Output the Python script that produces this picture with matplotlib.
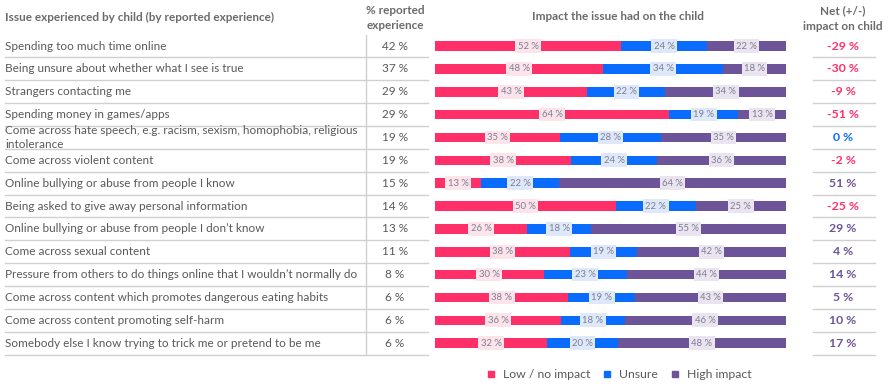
import matplotlib
matplotlib.use("Agg")
import matplotlib.pyplot as plt
import matplotlib.transforms as mtransforms
from matplotlib.lines import Line2D
import numpy as np

plt.rcParams['font.family'] = ['Lato', 'DejaVu Sans']

issues = [
    "Spending too much time online",
    "Being unsure about whether what I see is true",
    "Strangers contacting me",
    "Spending money in games/apps",
    "Come across hate speech, e.g. racism, sexism, homophobia, religious\nintolerance",
    "Come across violent content",
    "Online bullying or abuse from people I know",
    "Being asked to give away personal information",
    "Online bullying or abuse from people I don\u2019t know",
    "Come across sexual content",
    "Pressure from others to do things online that I wouldn\u2019t normally do",
    "Come across content which promotes dangerous eating habits",
    "Come across content promoting self-harm",
    "Somebody else I know trying to trick me or pretend to be me",
]
reported = [42, 37, 29, 29, 19, 19, 15, 14, 13, 11, 8, 6, 6, 6]
low = [52, 48, 43, 64, 35, 38, 13, 50, 26, 38, 30, 38, 36, 32]
unsure = [24, 34, 22, 19, 28, 24, 22, 22, 18, 19, 23, 19, 18, 20]
high = [22, 18, 34, 13, 35, 36, 64, 25, 55, 42, 44, 43, 46, 48]
net = [-29, -30, -9, -51, 0, -2, 51, -25, 29, 4, 14, 5, 10, 17]

series_names = ["Low / no impact", "Unsure", "High impact"]
colors = ["#ff2f68", "#0a6cff", "#6d5499"]
label_bg = ["#fde3ea", "#dde9fb", "#e9e4f0"]
text_grey = "#595959"
head_grey = "#6b6b6b"
line_grey = "#d0d0d0"

W, H = 893, 391
fig = plt.figure(figsize=(W / 100, H / 100), dpi=100)
n = len(issues)
ax = fig.add_axes([435 / W, (H - 354.6) / H, 351 / W, 320 / H])
ax.set_xlim(0, 100)
ax.set_ylim(n - 0.5, -0.5)
ax.axis('off')

y = np.arange(n)
data = np.array([low, unsure, high], dtype=float)
share = data / data.sum(axis=0) * 100
left = np.zeros(n)
for k in range(3):
    ax.barh(y, share[k], left=left, height=0.42, color=colors[k], label=series_names[k])
    for i in range(n):
        ax.text(left[i] + share[k][i] / 2, y[i], f"{int(data[k][i])} %", ha='center', va='center',
                fontsize=6.8, color="#7d7d90",
                bbox=dict(boxstyle='square,pad=0.25', facecolor=label_bg[k], edgecolor='none'))
    left += share[k]

# x in figure fraction, y in rows
tr = mtransforms.blended_transform_factory(fig.transFigure, ax.transData)

for i in range(n):
    ax.text(5 / W, y[i], issues[i], transform=tr, va='center', ha='left', fontsize=8.5,
            color=text_grey, linespacing=1.3)
    ax.text(395 / W, y[i], f"{reported[i]} %", transform=tr, ha='center', va='center',
            fontsize=8.5, color=text_grey)
    v = net[i]
    c = colors[0] if v < 0 else (colors[1] if v == 0 else colors[2])
    ax.text(843 / W, y[i], f"{v} %", transform=tr, ha='center', va='center',
            fontsize=8.8, color=c, fontweight='bold')
    yb = i + 0.5
    ax.add_line(Line2D([5 / W, 428 / W], [yb, yb], transform=tr, color=line_grey, lw=1, clip_on=False))
    ax.add_line(Line2D([813 / W, 875 / W], [yb, yb], transform=tr, color=line_grey, lw=1, clip_on=False))

ax.add_line(Line2D([366 / W, 366 / W], [-0.5, n - 0.5], transform=tr, color=line_grey, lw=1, clip_on=False))

fig.text(5 / W, 1 - 17 / H, "Issue experienced by child (by reported experience)", ha='left', va='center',
         fontsize=8.5, fontweight='bold', color=head_grey)
fig.text(395 / W, 1 - 18 / H, "% reported\nexperience", ha='center', va='center',
         fontsize=8.5, fontweight='bold', color=head_grey, linespacing=1.45)
fig.text(618 / W, 1 - 17 / H, "Impact the issue had on the child", ha='center', va='center',
         fontsize=8.5, fontweight='bold', color=head_grey)
fig.text(843 / W, 1 - 18.5 / H, "Net (+/-)\nimpact on child", ha='center', va='center',
         fontsize=8.5, fontweight='bold', color=head_grey, linespacing=1.45)

handles = [Line2D([], [], marker='s', linestyle='none', markersize=5, color=c) for c in colors]
fig.legend(handles, series_names, loc='center', bbox_to_anchor=(615 / W, 1 - 375 / H), ncol=3,
           frameon=False, fontsize=8.8, handletextpad=0.0, columnspacing=0.35, labelcolor=text_grey)

fig.savefig("out.png", dpi=100, facecolor='white')
